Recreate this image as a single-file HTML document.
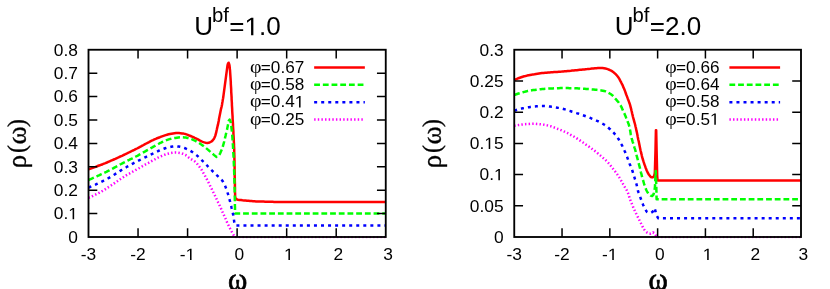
<!DOCTYPE html>
<html><head><meta charset="utf-8"><title>DOS plots</title>
<style>
html,body{margin:0;padding:0;background:#fff;}
body{width:830px;height:289px;overflow:hidden;font-family:"Liberation Sans",sans-serif;}
svg{display:block;will-change:transform;}
text{font-family:"Liberation Sans",sans-serif;fill:#000;}
.tk text{font-size:16.4px;}
.lg{font-size:16.5px;}
.tt{font-size:25.4px;}
.sup{font-size:19.8px;}
.o{fill:none;}
.gl{font-family:"Liberation Serif",serif;font-size:25px;}
.phi{font-family:"Liberation Serif",serif;font-size:19.2px;}
</style></head><body>
<svg width="830" height="289" viewBox="0 0 830 289">
<rect width="830" height="289" fill="#fff"/>
<clipPath id="cl"><rect x="87.50" y="48.75" width="299.25" height="189.45"/></clipPath>
<g clip-path="url(#cl)" fill="none" stroke-width="2.50" stroke-linejoin="round">
<path d="M88.5 169.4L89.9 168.9L91.4 168.4L92.8 167.9L94.2 167.4L95.6 166.9L97.0 166.3L98.4 165.8L99.8 165.3L101.3 164.7L102.7 164.2L104.1 163.6L105.5 163.1L106.9 162.5L108.2 161.9L109.6 161.3L111.0 160.7L112.4 160.1L113.8 159.5L115.2 158.9L116.5 158.3L117.9 157.7L119.3 157.0L120.6 156.4L122.0 155.8L123.4 155.1L124.7 154.5L126.1 153.8L127.5 153.2L128.8 152.5L130.2 151.8L131.5 151.2L132.9 150.5L134.3 149.9L135.6 149.2L137.0 148.5L138.3 147.8L139.6 147.1L141.0 146.4L142.3 145.7L143.6 145.0L145.0 144.2L146.3 143.5L147.6 142.8L149.0 142.1L150.3 141.4L151.7 140.7L153.0 140.1L154.4 139.4L155.8 138.8L157.1 138.2L158.5 137.7L159.9 137.2L161.3 136.6L162.8 136.1L164.2 135.6L165.6 135.1L167.1 134.7L168.5 134.3L170.0 134.0L171.5 133.7L173.0 133.4L174.5 133.2L176.0 133.0L177.5 133.0L179.0 133.1L180.5 133.2L182.0 133.4L183.5 133.6L184.9 133.9L186.4 134.4L187.8 134.9L189.2 135.5L190.6 136.0L192.0 136.6L193.4 137.2L194.7 137.9L196.1 138.5L197.5 139.2L198.8 139.9L200.1 140.7L201.5 141.4L202.8 141.9L204.3 142.4L205.8 142.8L207.3 143.0L208.7 142.8L210.2 142.2L211.5 141.5L212.6 140.5L213.6 139.3L214.3 138.1L214.9 136.8L215.4 135.4L215.8 133.9L216.2 132.4L216.5 130.9L216.9 129.3L217.2 127.8L217.5 126.4L217.9 124.9L218.2 123.4L218.5 121.9L218.8 120.5L219.0 119.0L219.3 117.5L219.6 116.0L219.9 114.5L220.2 113.1L220.5 111.6L220.8 110.1L221.1 108.6L221.5 107.1L221.8 105.7L222.1 104.2L222.3 102.7L222.6 101.2L222.8 99.7L223.1 98.2L223.3 96.8L223.5 95.3L223.7 93.8L223.9 92.3L224.1 90.8L224.3 89.3L224.5 87.8L224.7 86.3L224.9 84.8L225.1 83.3L225.3 81.8L225.5 80.3L225.7 78.8L225.9 77.3L226.1 75.8L226.3 74.3L226.5 72.8L226.7 71.3L226.9 69.8L227.1 68.3L227.3 66.8L227.5 65.3L227.9 63.9L228.6 62.7L229.2 64.2L229.5 65.6L229.7 67.1L229.8 68.6L230.0 70.1L230.1 71.7L230.2 73.2L230.3 74.7L230.4 76.2L230.5 77.7L230.6 79.2L230.7 80.7L230.8 82.2L230.8 83.7L230.9 85.2L231.0 86.7L231.1 88.2L231.2 89.8L231.2 91.3L231.3 92.8L231.4 94.3L231.5 95.8L231.6 97.3L231.6 98.8L231.7 100.3L231.8 101.8L231.9 103.3L231.9 104.8L232.0 106.3L232.1 107.8L232.2 109.3L232.2 110.8L232.3 112.3L232.4 113.9L232.5 115.4L232.6 116.9L232.6 118.4L232.7 119.9L232.8 121.4L232.9 122.9L233.0 124.4L233.0 125.9L233.1 127.4L233.2 128.9L233.3 130.4L233.4 131.9L233.4 133.4L233.5 134.9L233.6 136.4L233.7 138.0L233.8 139.5L233.8 141.0L233.9 142.5L234.0 144.0L234.0 145.5L234.1 147.0L234.2 148.5L234.2 150.0L234.2 151.5L234.3 153.0L234.3 154.5L234.4 156.0L234.4 157.5L234.4 159.1L234.5 160.6L234.5 162.1L234.5 163.6L234.5 165.1L234.6 166.6L234.6 168.1L234.6 169.6L234.6 171.1L234.7 172.6L234.7 174.1L234.7 175.6L234.7 177.2L234.8 178.7L234.8 180.2L234.8 181.7L234.9 183.2L234.9 184.7L234.9 186.2L235.0 187.7L235.0 189.2L235.0 190.8L235.0 192.3L235.1 193.8L235.1 195.3L235.2 196.8L235.6 198.3L236.5 199.3L238.0 199.7L239.5 200.0L241.0 200.1L242.5 200.3L244.0 200.4L245.5 200.5L247.0 200.7L248.5 200.8L250.0 201.0L251.5 201.1L253.0 201.2L254.5 201.3L256.0 201.4L257.5 201.5L259.1 201.5L260.6 201.5L262.1 201.6L263.6 201.6L265.1 201.7L266.6 201.7L268.1 201.7L269.6 201.8L271.1 201.8L272.6 201.8L274.1 201.9L275.6 201.9L277.1 201.9L278.7 201.9L280.2 201.9L281.7 202.0L283.2 202.0L284.7 202.0L286.2 202.0L287.7 202.0L289.2 202.0L290.7 202.0L292.2 202.0L293.7 202.0L295.2 202.0L296.8 202.0L298.3 202.0L299.8 202.0L301.3 202.0L302.8 202.0L304.3 202.0L305.8 202.0L307.3 202.0L308.8 202.0L310.3 202.0L311.8 202.0L313.3 202.0L314.9 202.0L316.4 202.0L317.9 202.0L319.4 202.0L320.9 202.0L322.4 202.0L323.9 202.0L325.4 202.0L326.9 202.0L328.4 202.0L329.9 202.0L331.4 202.0L333.0 202.0L334.5 202.0L336.0 202.0L337.5 202.0L339.0 202.0L340.5 202.0L342.0 202.0L343.5 202.0L345.0 202.0L346.5 202.0L348.0 202.0L349.5 202.0L351.1 202.0L352.6 202.0L354.1 202.0L355.6 202.0L357.1 202.0L358.6 202.0L360.1 202.0L361.6 202.0L363.1 202.0L364.6 202.0L366.1 202.0L367.6 202.0L369.2 202.0L370.7 202.0L372.2 202.0L373.7 202.0L375.2 202.0L376.7 202.0L378.2 202.0L379.7 202.0L381.2 202.0L382.7 202.0L384.2 202.0L385.8 202.0" stroke="#ff0000"/>
<path d="M88.5 180.0L89.9 179.4L91.3 178.8L92.7 178.2L94.1 177.6L95.4 177.0L96.8 176.3L98.2 175.7L99.6 175.1L100.9 174.4L102.3 173.8L103.7 173.1L105.0 172.5L106.4 171.8L107.7 171.1L109.1 170.5L110.4 169.8L111.8 169.1L113.1 168.4L114.4 167.6L115.8 166.9L117.1 166.2L118.4 165.4L119.7 164.7L121.1 164.0L122.4 163.3L123.7 162.6L125.1 161.9L126.4 161.2L127.8 160.5L129.2 159.9L130.5 159.2L131.9 158.6L133.2 157.9L134.6 157.2L135.9 156.5L137.3 155.8L138.6 155.1L139.9 154.3L141.2 153.6L142.6 152.8L143.9 152.1L145.2 151.4L146.5 150.6L147.8 149.9L149.2 149.2L150.5 148.4L151.8 147.7L153.1 146.9L154.4 146.2L155.8 145.4L157.1 144.7L158.4 144.0L159.7 143.2L161.1 142.6L162.4 141.9L163.8 141.3L165.2 140.7L166.6 140.1L168.0 139.6L169.5 139.1L170.9 138.8L172.4 138.4L173.9 138.1L175.4 137.9L176.9 137.7L178.4 137.5L179.9 137.3L181.4 137.2L182.9 137.2L184.4 137.4L185.9 137.6L187.4 137.9L188.9 138.2L190.3 138.6L191.7 139.2L193.1 139.8L194.5 140.5L195.9 141.2L197.2 141.9L198.5 142.6L199.8 143.4L201.0 144.3L202.3 145.2L203.5 146.1L204.7 147.0L205.9 148.0L207.0 148.9L208.2 149.9L209.3 150.9L210.5 151.9L211.6 152.9L212.8 153.9L213.9 154.9L215.1 155.9L216.3 156.9L217.7 156.7L218.8 155.7L219.6 154.4L220.3 153.0L220.9 151.6L221.5 150.2L222.1 148.8L222.6 147.4L223.0 145.9L223.4 144.5L223.8 143.0L224.2 141.5L224.5 140.1L224.9 138.6L225.2 137.1L225.6 135.6L225.9 134.2L226.3 132.7L226.6 131.2L227.0 129.8L227.3 128.3L227.6 126.8L227.9 125.3L228.2 123.7L228.4 122.2L228.8 120.8L229.6 119.6L230.3 120.9L230.7 122.4L230.9 123.9L231.2 125.4L231.4 126.9L231.5 128.4L231.7 129.9L231.9 131.4L232.0 132.9L232.2 134.4L232.3 135.9L232.4 137.4L232.5 138.9L232.6 140.5L232.7 142.0L232.8 143.5L232.9 145.0L233.0 146.5L233.1 148.0L233.2 149.5L233.3 151.0L233.3 152.5L233.4 154.0L233.5 155.6L233.6 157.1L233.6 158.6L233.7 160.1L233.8 161.6L233.8 163.1L233.9 164.6L233.9 166.1L234.0 167.7L234.1 169.2L234.1 170.7L234.2 172.2L234.2 173.7L234.3 175.2L234.3 176.7L234.3 178.2L234.4 179.7L234.4 181.3L234.5 182.8L234.5 184.3L234.6 185.8L234.6 187.3L234.6 188.8L234.7 190.3L234.7 191.8L234.7 193.4L234.8 194.9L234.8 196.4L234.8 197.9L234.8 199.4L234.9 200.9L234.9 202.4L234.9 203.9L234.9 205.5L235.0 207.0L235.0 208.5L235.0 210.0L235.0 210.0L235.1 213.5L385.8 213.5" stroke="#00ff00" stroke-dasharray="5.8 2.9"/>
<path d="M88.5 187.6L89.9 187.0L91.3 186.4L92.7 185.8L94.1 185.2L95.5 184.6L96.9 183.9L98.2 183.3L99.6 182.6L101.0 182.0L102.3 181.3L103.7 180.6L105.0 179.9L106.3 179.2L107.7 178.5L109.0 177.8L110.3 177.1L111.6 176.3L112.9 175.5L114.2 174.7L115.5 173.9L116.8 173.1L118.0 172.3L119.3 171.4L120.6 170.6L121.9 169.8L123.1 169.0L124.4 168.2L125.8 167.5L127.1 166.7L128.4 166.0L129.7 165.3L131.1 164.5L132.4 163.8L133.7 163.1L135.1 162.4L136.4 161.7L137.8 161.0L139.1 160.3L140.5 159.7L141.8 159.0L143.2 158.3L144.5 157.6L145.9 157.0L147.3 156.3L148.6 155.6L150.0 155.0L151.4 154.3L152.7 153.7L154.1 153.0L155.5 152.3L156.8 151.7L158.2 151.0L159.6 150.4L161.0 149.8L162.4 149.3L163.8 148.8L165.2 148.3L166.7 147.8L168.2 147.4L169.6 147.1L171.1 146.8L172.6 146.5L174.1 146.3L175.6 146.3L177.1 146.4L178.7 146.6L180.1 146.8L181.6 147.1L183.1 147.5L184.5 148.0L185.9 148.6L187.3 149.2L188.7 149.9L190.0 150.6L191.3 151.4L192.6 152.2L193.8 153.1L195.0 154.0L196.2 154.9L197.4 155.9L198.5 156.9L199.6 158.0L200.7 159.1L201.7 160.1L202.8 161.2L203.9 162.2L205.0 163.3L206.1 164.4L207.1 165.5L208.1 166.6L209.2 167.7L210.2 168.8L211.3 169.9L212.3 170.9L213.4 172.0L214.5 173.1L215.6 174.2L216.7 175.2L217.8 176.2L219.0 177.3L220.1 178.3L221.2 179.4L222.2 180.5L223.0 181.7L223.7 183.0L224.4 184.3L225.0 185.7L225.6 187.1L226.2 188.6L226.7 190.0L227.2 191.4L227.6 192.9L228.1 194.3L228.5 195.8L228.9 197.2L229.3 198.7L229.7 200.2L230.1 201.6L230.4 203.1L230.8 204.6L231.2 206.0L231.5 207.5L231.9 209.0L232.3 210.5L232.6 211.9L232.9 213.4L233.2 214.9L233.4 216.4L233.7 217.9L233.9 219.4L234.1 220.9L234.3 222.4L234.3 222.4L235.2 225.4L385.8 225.4" stroke="#0000ff" stroke-dasharray="3.0 4.05"/>
<path d="M88.5 197.8L89.9 197.2L91.3 196.6L92.7 196.0L94.1 195.3L95.4 194.7L96.8 194.0L98.1 193.3L99.5 192.6L100.8 191.9L102.1 191.2L103.4 190.4L104.7 189.6L106.0 188.8L107.2 188.0L108.5 187.1L109.8 186.3L111.0 185.5L112.3 184.6L113.5 183.8L114.8 182.9L116.0 182.0L117.3 181.2L118.5 180.3L119.8 179.5L121.0 178.6L122.3 177.8L123.6 177.0L124.8 176.2L126.1 175.4L127.5 174.7L128.8 173.9L130.1 173.2L131.4 172.4L132.7 171.7L134.1 171.0L135.4 170.2L136.7 169.5L138.0 168.7L139.3 168.0L140.6 167.2L141.9 166.5L143.3 165.7L144.6 165.0L145.9 164.2L147.2 163.5L148.6 162.8L149.9 162.1L151.2 161.3L152.6 160.6L153.9 159.9L155.2 159.2L156.6 158.4L157.9 157.7L159.3 157.0L160.6 156.4L162.0 155.8L163.4 155.2L164.8 154.7L166.2 154.2L167.7 153.8L169.2 153.4L170.6 153.1L172.1 152.8L173.6 152.6L175.1 152.5L176.7 152.6L178.2 152.7L179.7 152.9L181.1 153.2L182.6 153.7L184.0 154.3L185.4 154.9L186.6 155.7L187.8 156.7L188.9 157.7L190.2 158.6L191.5 159.4L192.8 160.2L194.1 161.0L195.3 161.8L196.4 162.8L197.3 164.0L198.2 165.3L199.2 166.4L200.1 167.6L201.0 168.9L201.8 170.2L202.5 171.5L203.3 172.8L204.0 174.1L204.8 175.4L205.5 176.8L206.2 178.1L206.9 179.4L207.6 180.8L208.3 182.1L209.0 183.5L209.6 184.8L210.3 186.2L211.0 187.5L211.7 188.9L212.3 190.3L213.0 191.6L213.7 193.0L214.3 194.3L215.0 195.7L215.6 197.1L216.3 198.4L216.9 199.8L217.6 201.2L218.2 202.5L218.9 203.9L219.5 205.3L220.1 206.7L220.8 208.0L221.4 209.4L222.0 210.8L222.6 212.2L223.2 213.6L223.8 214.9L224.5 216.3L225.1 217.7L225.7 219.1L226.3 220.5L226.9 221.9L227.5 223.3L228.1 224.6L228.8 226.0L229.4 227.4L230.1 228.7L230.8 230.0L231.5 231.4L232.3 232.7L233.0 234.0L233.8 235.3L234.6 236.6L234.6 236.6L235.1 237.3L385.8 237.3" stroke="#ff00ff" stroke-dasharray="1.45 2.18"/>
</g>
<g stroke="#000" stroke-width="1.85" fill="none" stroke-linecap="butt">
<rect x="88.50" y="49.75" width="297.25" height="187.25"/>
</g><g stroke="#000" stroke-width="1.5" fill="none">
<path d="M138.04 237.00v-8.80M138.04 49.75v8.80M187.58 237.00v-8.80M187.58 49.75v8.80M237.12 237.00v-8.80M237.12 49.75v8.80M286.67 237.00v-8.80M286.67 49.75v8.80M336.21 237.00v-8.80M336.21 49.75v8.80M88.50 213.59h8.80M385.75 213.59h-8.80M88.50 190.19h8.80M385.75 190.19h-8.80M88.50 166.78h8.80M385.75 166.78h-8.80M88.50 143.38h8.80M385.75 143.38h-8.80M88.50 119.97h8.80M385.75 119.97h-8.80M88.50 96.56h8.80M385.75 96.56h-8.80M88.50 73.16h8.80M385.75 73.16h-8.80"/></g>
<g class="tk">
<text transform="translate(88.50,260.0) scale(1.060,1)" text-anchor="middle">-3</text>
<text transform="translate(138.04,260.0) scale(1.060,1)" text-anchor="middle">-2</text>
<text transform="translate(187.58,260.0) scale(1.060,1)" text-anchor="middle">-<tspan class="o">1</tspan></text>
<text transform="translate(239.32,260.0) scale(1.060,1)" text-anchor="middle">0</text>
<text transform="translate(288.87,260.0) scale(1.060,1)" text-anchor="middle"><tspan class="o">1</tspan></text>
<text transform="translate(338.41,260.0) scale(1.060,1)" text-anchor="middle">2</text>
<text transform="translate(387.95,260.0) scale(1.060,1)" text-anchor="middle">3</text>
<text transform="translate(77.90,242.75) scale(1.060,1)" text-anchor="end">0</text>
<text transform="translate(77.90,219.34) scale(1.060,1)" text-anchor="end">0.<tspan class="o">1</tspan></text>
<text transform="translate(77.90,195.94) scale(1.060,1)" text-anchor="end">0.2</text>
<text transform="translate(77.90,172.53) scale(1.060,1)" text-anchor="end">0.3</text>
<text transform="translate(77.90,149.12) scale(1.060,1)" text-anchor="end">0.4</text>
<text transform="translate(77.90,125.72) scale(1.060,1)" text-anchor="end">0.5</text>
<text transform="translate(77.90,102.31) scale(1.060,1)" text-anchor="end">0.6</text>
<text transform="translate(77.90,78.91) scale(1.060,1)" text-anchor="end">0.7</text>
<text transform="translate(77.90,55.50) scale(1.060,1)" text-anchor="end">0.8</text>
</g>
<text class="tt" transform="translate(194.22,35.2) scale(1.025,1)">U<tspan class="sup" dx="-1.0" dy="-13.7">bf</tspan><tspan dx="0.4" dy="13.7">=<tspan class="o">1</tspan>.0</tspan></text>
<g transform="translate(0.00,0) rotate(-90)">
<text transform="matrix(1.3323 0 0 1.3341 -168.32 25.72)" style="font-family:'Liberation Serif';font-weight:normal;font-size:20px;stroke:#000;stroke-width:0.25">ρ</text>
<text transform="matrix(1.1875 0 0 1.2131 -152.94 25.33)" style="font-family:'Liberation Serif';font-weight:normal;font-size:20px;stroke:#000;stroke-width:0.25">(</text>
<text transform="matrix(1.3791 0 0 1.3688 -144.48 25.73)" style="font-family:'Liberation Serif';font-weight:normal;font-size:20px;stroke:#000;stroke-width:0.25">ω</text>
<text transform="matrix(1.1681 0 0 1.2131 -126.95 25.33)" style="font-family:'Liberation Serif';font-weight:normal;font-size:20px;stroke:#000;stroke-width:0.25">)</text>
</g>
<text transform="matrix(1.4653 0 0 1.5987 227.88 290.29)" style="font-family:'Liberation Serif';font-weight:normal;font-size:20px;stroke:#000;stroke-width:0.45">ω</text>
<path d="M314.15 67.40H364.85" stroke="#ff0000" stroke-width="2.50" fill="none"/>
<text class="lg" transform="translate(249.95,72.85) scale(1.04,1)"><tspan class="phi">φ</tspan><tspan dx="-0.6">=0.67</tspan></text>
<path d="M314.15 84.80H364.85" stroke="#00ff00" stroke-width="2.50" stroke-dasharray="5.8 2.9" fill="none"/>
<text class="lg" transform="translate(249.95,90.15) scale(1.04,1)"><tspan class="phi">φ</tspan><tspan dx="-0.6">=0.58</tspan></text>
<path d="M314.15 102.20H364.85" stroke="#0000ff" stroke-width="2.50" stroke-dasharray="3.0 4.05" fill="none"/>
<text class="lg" transform="translate(249.95,107.45) scale(1.04,1)"><tspan class="phi">φ</tspan><tspan dx="-0.6">=0.4<tspan class="o">1</tspan></tspan></text>
<path d="M314.15 119.60H364.85" stroke="#ff00ff" stroke-width="2.50" stroke-dasharray="1.45 2.18" fill="none"/>
<text class="lg" transform="translate(249.95,124.75) scale(1.04,1)"><tspan class="phi">φ</tspan><tspan dx="-0.6">=0.25</tspan></text>
<clipPath id="cr"><rect x="513.25" y="48.75" width="288.75" height="189.45"/></clipPath>
<g clip-path="url(#cr)" fill="none" stroke-width="2.50" stroke-linejoin="round">
<path d="M514.2 80.1L515.6 79.4L517.0 78.8L518.4 78.2L519.8 77.7L521.2 77.2L522.7 76.7L524.2 76.3L525.6 76.0L527.1 75.6L528.6 75.3L530.1 75.0L531.6 74.7L533.0 74.4L534.5 74.2L536.0 73.9L537.5 73.7L539.0 73.5L540.5 73.3L542.0 73.1L543.6 72.9L545.1 72.8L546.6 72.7L548.1 72.5L549.6 72.4L551.1 72.3L552.6 72.2L554.1 72.1L555.6 72.0L557.2 71.9L558.7 71.8L560.2 71.7L561.7 71.6L563.2 71.4L564.7 71.3L566.2 71.2L567.7 71.0L569.2 70.9L570.8 70.8L572.3 70.6L573.8 70.5L575.3 70.3L576.8 70.2L578.3 70.0L579.8 69.8L581.3 69.7L582.8 69.5L584.3 69.4L585.8 69.2L587.3 69.1L588.9 68.9L590.4 68.8L591.9 68.6L593.4 68.5L594.9 68.3L596.4 68.2L597.9 68.1L599.4 68.0L600.9 68.0L602.5 68.0L604.0 68.2L605.5 68.5L606.9 68.9L608.3 69.4L609.7 70.0L611.1 70.7L612.4 71.4L613.6 72.3L614.8 73.4L615.9 74.4L616.9 75.5L617.9 76.7L618.7 77.9L619.5 79.2L620.2 80.6L620.9 81.9L621.6 83.3L622.3 84.6L622.9 86.0L623.5 87.4L624.1 88.8L624.7 90.2L625.2 91.6L625.7 93.0L626.2 94.5L626.8 95.9L627.3 97.3L627.8 98.7L628.4 100.2L628.9 101.6L629.4 103.0L629.9 104.4L630.3 105.9L630.7 107.4L631.1 108.8L631.4 110.3L631.8 111.8L632.1 113.3L632.5 114.7L632.8 116.2L633.2 117.7L633.6 119.1L634.0 120.6L634.4 122.1L634.8 123.5L635.2 125.0L635.5 126.5L635.9 127.9L636.2 129.4L636.5 130.9L636.9 132.4L637.2 133.9L637.5 135.4L637.7 136.8L638.0 138.3L638.3 139.8L638.7 141.3L639.0 142.8L639.3 144.3L639.6 145.8L639.9 147.2L640.2 148.7L640.5 150.2L640.9 151.7L641.2 153.2L641.6 154.6L641.9 156.1L642.3 157.6L642.7 159.0L643.2 160.5L643.6 161.9L644.1 163.4L644.6 164.8L645.1 166.2L645.6 167.7L646.2 169.1L646.7 170.5L647.4 171.9L648.0 173.2L648.8 174.5L649.8 175.7L650.8 177.0L652.1 177.4L653.5 177.0L654.2 175.5L654.6 174.1L654.8 172.6L654.9 171.0L654.9 171.0L655.5 150.0L655.9 130.3L656.2 130.3L656.6 150.0L657.2 176.0L657.6 180.5L801.0 180.5" stroke="#ff0000"/>
<path d="M514.2 95.0L515.7 94.5L517.1 94.0L518.5 93.5L520.0 93.1L521.5 92.7L522.9 92.3L524.4 91.9L525.8 91.5L527.3 91.1L528.8 90.8L530.3 90.6L531.8 90.3L533.3 90.1L534.8 89.9L536.3 89.7L537.8 89.5L539.3 89.4L540.8 89.2L542.3 89.1L543.8 89.0L545.3 88.8L546.8 88.7L548.4 88.6L549.9 88.5L551.4 88.5L552.9 88.4L554.4 88.3L555.9 88.3L557.4 88.2L558.9 88.2L560.5 88.1L562.0 88.1L563.5 88.1L565.0 88.1L566.5 88.1L568.0 88.1L569.5 88.2L571.1 88.2L572.6 88.2L574.1 88.2L575.6 88.3L577.1 88.3L578.6 88.4L580.1 88.5L581.6 88.6L583.2 88.7L584.7 88.8L586.2 88.9L587.7 89.0L589.2 89.1L590.7 89.2L592.2 89.4L593.7 89.5L595.2 89.7L596.7 89.8L598.2 90.0L599.8 90.2L601.3 90.4L602.8 90.7L604.2 91.0L605.7 91.4L607.1 92.0L608.4 92.7L609.7 93.5L611.0 94.3L612.2 95.2L613.3 96.3L614.3 97.4L615.3 98.6L616.3 99.7L617.3 100.9L618.3 102.0L619.2 103.3L620.0 104.5L620.8 105.8L621.5 107.1L622.1 108.5L622.7 109.9L623.4 111.3L624.0 112.7L624.6 114.0L625.2 115.4L625.8 116.8L626.3 118.2L626.9 119.6L627.5 121.1L628.0 122.5L628.6 123.9L629.0 125.3L629.4 126.8L629.7 128.3L630.0 129.7L630.3 131.2L630.5 132.7L630.7 134.2L631.0 135.7L631.4 137.2L631.7 138.7L632.2 140.1L632.6 141.6L633.1 143.0L633.5 144.5L634.0 145.9L634.4 147.3L634.9 148.8L635.3 150.3L635.7 151.7L636.0 153.2L636.4 154.7L636.8 156.1L637.2 157.6L637.6 159.1L637.9 160.5L638.3 162.0L638.7 163.4L639.1 164.9L639.5 166.4L639.9 167.8L640.2 169.3L640.6 170.8L640.9 172.3L641.3 173.7L641.7 175.2L642.0 176.7L642.4 178.1L642.8 179.6L643.3 181.0L643.7 182.5L644.1 183.9L644.6 185.4L645.1 186.8L645.6 188.2L646.2 189.7L646.8 191.0L647.6 192.4L648.4 193.7L649.4 194.7L650.7 195.6L652.1 196.0L653.3 194.9L653.8 193.5L654.2 192.0L654.5 190.5L654.7 189.0L654.9 187.5L655.0 186.0L655.0 186.0L655.7 171.0L656.3 186.0L656.6 199.2L801.0 199.2" stroke="#00ff00" stroke-dasharray="5.8 2.9"/>
<path d="M514.2 110.7L515.7 110.2L517.1 109.8L518.6 109.4L520.1 109.0L521.5 108.6L523.0 108.3L524.5 108.0L526.0 107.7L527.5 107.4L529.0 107.2L530.5 106.9L532.0 106.7L533.5 106.5L535.0 106.4L536.5 106.3L538.0 106.2L539.5 106.1L541.0 106.0L542.6 106.0L544.1 106.0L545.6 106.1L547.1 106.3L548.6 106.4L550.1 106.6L551.6 106.8L553.1 106.9L554.6 107.1L556.1 107.4L557.6 107.7L559.1 107.9L560.6 108.2L562.1 108.6L563.5 109.0L565.0 109.4L566.4 109.8L567.9 110.3L569.3 110.8L570.8 111.2L572.2 111.7L573.7 112.1L575.1 112.6L576.6 113.1L578.0 113.5L579.4 114.0L580.9 114.5L582.3 115.0L583.7 115.5L585.1 116.0L586.6 116.6L588.0 117.1L589.4 117.6L590.8 118.2L592.2 118.8L593.6 119.4L595.0 120.0L596.4 120.6L597.8 121.2L599.1 121.9L600.5 122.6L601.8 123.3L603.1 124.0L604.4 124.8L605.7 125.7L606.9 126.6L608.1 127.5L609.2 128.5L610.4 129.5L611.5 130.6L612.5 131.6L613.6 132.7L614.6 133.8L615.6 135.0L616.6 136.2L617.4 137.4L618.3 138.7L619.1 140.0L619.8 141.3L620.6 142.6L621.3 144.0L622.0 145.3L622.6 146.7L623.3 148.0L623.9 149.4L624.5 150.8L625.2 152.2L625.7 153.6L626.3 155.0L626.9 156.4L627.4 157.8L627.9 159.2L628.4 160.7L629.0 162.1L629.5 163.5L630.1 164.9L630.6 166.3L631.2 167.7L631.8 169.1L632.3 170.5L632.8 172.0L633.2 173.4L633.7 174.9L634.1 176.3L634.6 177.8L635.0 179.2L635.5 180.6L635.9 182.1L636.3 183.6L636.7 185.0L637.0 186.5L637.2 188.0L637.6 189.5L638.0 191.0L638.5 192.4L639.1 193.8L639.6 195.2L640.1 196.6L640.6 198.1L641.1 199.5L641.6 200.9L642.1 202.4L642.7 203.8L643.3 205.2L643.9 206.5L644.5 207.9L645.2 209.3L646.0 210.5L646.9 211.9L648.1 212.6L649.7 213.0L651.2 212.7L652.4 212.0L653.3 210.7L654.0 209.1L654.7 208.2L655.1 209.7L655.5 211.3L655.8 212.8L656.2 214.3L656.7 215.7L657.5 217.0L657.5 217.0L658.3 218.2L801.0 218.2" stroke="#0000ff" stroke-dasharray="3.0 4.05"/>
<path d="M514.2 125.7L515.7 125.4L517.2 125.2L518.7 125.0L520.2 124.8L521.7 124.6L523.2 124.4L524.7 124.2L526.3 124.1L527.8 124.0L529.3 123.9L530.8 123.8L532.3 123.7L533.8 123.7L535.3 123.7L536.8 123.9L538.3 124.0L539.9 124.2L541.4 124.4L542.9 124.6L544.4 124.8L545.9 125.1L547.3 125.4L548.8 125.7L550.3 126.1L551.7 126.6L553.1 127.1L554.6 127.6L556.0 128.1L557.4 128.7L558.8 129.2L560.2 129.8L561.6 130.4L563.0 131.0L564.4 131.6L565.8 132.3L567.1 132.9L568.5 133.6L569.8 134.3L571.1 135.1L572.5 135.8L573.8 136.5L575.1 137.3L576.4 138.1L577.6 138.9L578.9 139.7L580.2 140.6L581.4 141.4L582.7 142.3L583.9 143.1L585.2 144.0L586.4 144.9L587.7 145.7L588.9 146.6L590.1 147.5L591.4 148.4L592.6 149.3L593.8 150.2L595.0 151.1L596.2 152.0L597.4 153.0L598.5 154.0L599.7 154.9L600.8 155.9L602.0 156.9L603.1 157.9L604.3 158.9L605.4 159.9L606.5 161.0L607.5 162.1L608.6 163.2L609.5 164.3L610.5 165.5L611.4 166.7L612.3 167.9L613.3 169.1L614.2 170.3L615.2 171.5L616.1 172.7L616.9 173.9L617.8 175.2L618.6 176.4L619.4 177.7L620.2 179.0L621.0 180.3L621.8 181.6L622.5 182.9L623.2 184.3L624.0 185.6L624.7 186.9L625.5 188.2L626.3 189.5L627.0 190.8L627.6 192.2L628.2 193.6L628.7 195.0L629.1 196.5L629.6 197.9L630.1 199.4L630.6 200.8L631.2 202.2L631.7 203.6L632.3 205.0L632.9 206.4L633.5 207.8L634.1 209.2L634.7 210.6L635.3 212.0L636.0 213.3L636.7 214.7L637.4 216.0L638.0 217.4L638.7 218.7L639.4 220.1L640.1 221.4L640.7 222.8L641.4 224.2L642.1 225.5L642.7 226.9L643.4 228.2L644.2 229.5L645.2 230.8L646.2 231.9L647.4 232.8L648.8 233.5L650.2 233.7L651.7 233.2L653.0 232.4L654.2 233.2L655.1 234.5L656.0 235.7L656.8 237.0L656.8 237.3L801.0 237.3" stroke="#ff00ff" stroke-dasharray="1.45 2.18"/>
</g>
<g stroke="#000" stroke-width="1.85" fill="none" stroke-linecap="butt">
<rect x="514.25" y="49.75" width="286.75" height="187.25"/>
</g><g stroke="#000" stroke-width="1.5" fill="none">
<path d="M562.04 237.00v-8.80M562.04 49.75v8.80M609.83 237.00v-8.80M609.83 49.75v8.80M657.62 237.00v-8.80M657.62 49.75v8.80M705.42 237.00v-8.80M705.42 49.75v8.80M753.21 237.00v-8.80M753.21 49.75v8.80M514.25 205.79h8.80M801.00 205.79h-8.80M514.25 174.58h8.80M801.00 174.58h-8.80M514.25 143.38h8.80M801.00 143.38h-8.80M514.25 112.17h8.80M801.00 112.17h-8.80M514.25 80.96h8.80M801.00 80.96h-8.80"/></g>
<g class="tk">
<text transform="translate(514.25,260.0) scale(1.060,1)" text-anchor="middle">-3</text>
<text transform="translate(562.04,260.0) scale(1.060,1)" text-anchor="middle">-2</text>
<text transform="translate(609.83,260.0) scale(1.060,1)" text-anchor="middle">-<tspan class="o">1</tspan></text>
<text transform="translate(659.83,260.0) scale(1.060,1)" text-anchor="middle">0</text>
<text transform="translate(707.62,260.0) scale(1.060,1)" text-anchor="middle"><tspan class="o">1</tspan></text>
<text transform="translate(755.41,260.0) scale(1.060,1)" text-anchor="middle">2</text>
<text transform="translate(803.20,260.0) scale(1.060,1)" text-anchor="middle">3</text>
<text transform="translate(503.65,242.75) scale(1.060,1)" text-anchor="end">0</text>
<text transform="translate(503.65,211.54) scale(1.060,1)" text-anchor="end">0.05</text>
<text transform="translate(503.65,180.33) scale(1.060,1)" text-anchor="end">0.<tspan class="o">1</tspan></text>
<text transform="translate(503.65,149.12) scale(1.060,1)" text-anchor="end">0.<tspan class="o">1</tspan>5</text>
<text transform="translate(503.65,117.92) scale(1.060,1)" text-anchor="end">0.2</text>
<text transform="translate(503.65,86.71) scale(1.060,1)" text-anchor="end">0.25</text>
<text transform="translate(503.65,55.50) scale(1.060,1)" text-anchor="end">0.3</text>
</g>
<text class="tt" transform="translate(614.73,35.2) scale(1.025,1)">U<tspan class="sup" dx="-1.0" dy="-13.7">bf</tspan><tspan dx="0.4" dy="13.7">=2.0</tspan></text>
<g transform="translate(415.00,0) rotate(-90)">
<text transform="matrix(1.3323 0 0 1.3341 -168.32 25.72)" style="font-family:'Liberation Serif';font-weight:normal;font-size:20px;stroke:#000;stroke-width:0.25">ρ</text>
<text transform="matrix(1.1875 0 0 1.2131 -152.94 25.33)" style="font-family:'Liberation Serif';font-weight:normal;font-size:20px;stroke:#000;stroke-width:0.25">(</text>
<text transform="matrix(1.3791 0 0 1.3688 -144.48 25.73)" style="font-family:'Liberation Serif';font-weight:normal;font-size:20px;stroke:#000;stroke-width:0.25">ω</text>
<text transform="matrix(1.1681 0 0 1.2131 -126.95 25.33)" style="font-family:'Liberation Serif';font-weight:normal;font-size:20px;stroke:#000;stroke-width:0.25">)</text>
</g>
<text transform="matrix(1.4653 0 0 1.5987 648.38 290.29)" style="font-family:'Liberation Serif';font-weight:normal;font-size:20px;stroke:#000;stroke-width:0.45">ω</text>
<path d="M729.40 67.40H780.10" stroke="#ff0000" stroke-width="2.50" fill="none"/>
<text class="lg" transform="translate(665.20,72.85) scale(1.04,1)"><tspan class="phi">φ</tspan><tspan dx="-0.6">=0.66</tspan></text>
<path d="M729.40 84.80H780.10" stroke="#00ff00" stroke-width="2.50" stroke-dasharray="5.8 2.9" fill="none"/>
<text class="lg" transform="translate(665.20,90.15) scale(1.04,1)"><tspan class="phi">φ</tspan><tspan dx="-0.6">=0.64</tspan></text>
<path d="M729.40 102.20H780.10" stroke="#0000ff" stroke-width="2.50" stroke-dasharray="3.0 4.05" fill="none"/>
<text class="lg" transform="translate(665.20,107.45) scale(1.04,1)"><tspan class="phi">φ</tspan><tspan dx="-0.6">=0.58</tspan></text>
<path d="M729.40 119.60H780.10" stroke="#ff00ff" stroke-width="2.50" stroke-dasharray="1.45 2.18" fill="none"/>
<text class="lg" transform="translate(665.20,124.75) scale(1.04,1)"><tspan class="phi">φ</tspan><tspan dx="-0.6">=0.5<tspan class="o">1</tspan></tspan></text>
<path d="M190.01 260.00L190.01 250.09L187.32 251.91L187.32 250.55L190.14 248.72L191.55 248.72L191.55 260.00ZM288.41 260.00L288.41 250.09L285.71 251.91L285.71 250.55L288.54 248.72L289.95 248.72L289.95 260.00ZM72.61 219.34L72.61 209.43L69.91 211.25L69.91 209.89L72.74 208.06L74.15 208.06L74.15 219.34ZM251.07 35.20L251.07 19.86L247.02 22.67L247.02 20.57L251.26 17.73L253.37 17.73L253.37 35.20ZM299.05 107.45L299.05 97.48L296.39 99.31L296.39 97.94L299.18 96.10L300.57 96.10L300.57 107.45ZM612.26 260.00L612.26 250.09L609.57 251.91L609.57 250.55L612.39 248.72L613.80 248.72L613.80 260.00ZM707.16 260.00L707.16 250.09L704.46 251.91L704.46 250.55L707.29 248.72L708.70 248.72L708.70 260.00ZM498.36 180.33L498.36 170.42L495.66 172.24L495.66 170.88L498.49 169.05L499.90 169.05L499.90 180.33ZM488.70 149.12L488.70 139.21L486.00 141.03L486.00 139.67L488.83 137.84L490.24 137.84L490.24 149.12ZM714.30 124.75L714.30 114.78L711.64 116.61L711.64 115.24L714.43 113.40L715.82 113.40L715.82 124.75Z" fill="#000"/>
</svg>
</body></html>
